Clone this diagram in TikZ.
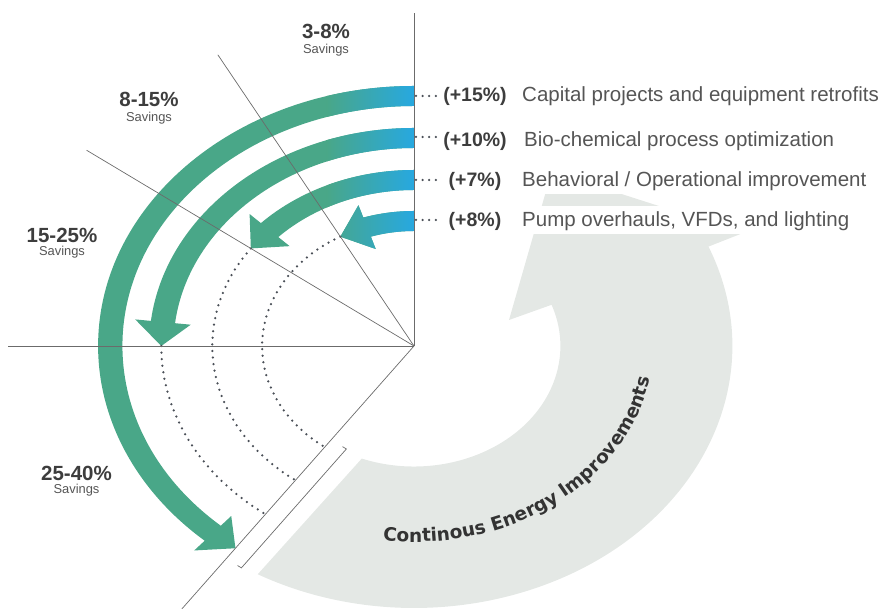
\documentclass[tikz,border=0pt]{standalone}
\usepackage{fontspec}
\setmainfont{Liberation Sans}
\newfontfamily\loopfont{DejaVu Sans}
\usetikzlibrary{positioning,decorations.text}

\definecolor{arrowgreen}{HTML}{49A788}
\definecolor{arrowblue}{HTML}{27A8E0}
\definecolor{loopgray}{HTML}{E4E8E5}
\definecolor{axisgray}{HTML}{6B6B6B}
\definecolor{dotgray}{HTML}{4A4F57}
\definecolor{labeldark}{HTML}{3D3D3D}
\definecolor{labelgray}{HTML}{555555}
\definecolor{loopdark}{HTML}{333333}

\tikzset{
  axisline/.style={draw=axisgray, line width=0.7pt},
  dotline/.style={draw=dotgray, line width=2.5pt, line cap=round, dash pattern=on 0pt off 6.6pt},
  savingrange/.style={anchor=base, inner sep=0pt, text=labeldark, font=\bfseries\fontsize{20.5}{24}\selectfont},
  savings/.style={anchor=base, inner sep=0pt, text=labelgray, font=\fontsize{12.9}{15}\selectfont},
  gain/.style={anchor=base, inner sep=2pt, text=labeldark, font=\bfseries\fontsize{19.5}{23}\selectfont},
  measure/.style={anchor=base west, fill=white, inner xsep=3pt, inner ysep=3pt,
    text height=18pt, text depth=4pt, text=labelgray, font=\fontsize{20.5}{24}\selectfont},
}

\begin{document}
\begin{tikzpicture}[x=1pt,y=1pt]
\useasboundingbox (0,0) rectangle (882,609);

\begin{scope}[shift={(414,263)}, xscale=1.215]
\coordinate (O) at (0,0);
% continuous improvement loop
\fill[loopgray] (249.1:120.5) arc[start angle=249.1, end angle=380, radius=120.5]
  -- (18.4:82.4) -- (57:208) -- (22.65:293.4) -- (22.3:262)
  arc[start angle=382.3, end angle=240.6, radius=262] -- cycle;

% savings arrows
\foreach \r/\tip in {250/234,208/180,166/144,125/119}{
  \pgfmathsetmacro\back{\tip-24/\r*180/pi}
  \pgfmathsetmacro\ro{\r+10} \pgfmathsetmacro\ri{\r-10}
  \pgfmathsetmacro\ho{\r+23} \pgfmathsetmacro\hi{\r-23}
  \begin{scope}
    \clip (90:\ro) arc[start angle=90, end angle=\back, radius=\ro]
      -- (\back:\ho) -- (\tip:\r) -- (\back:\hi) -- (\back:\ri)
      arc[start angle=\back, end angle=90, radius=\ri] -- cycle;
    \fill[arrowgreen] (-320,-320) rectangle (0,320);
    \shade[left color=arrowgreen, right color=arrowblue] (-72,0) rectangle (0,320);
  \end{scope}
}

% dotted continuation
\foreach \r/\tip in {208/180,166/144,125/119}
  \draw[dotline] (\tip:\r) arc[start angle=\tip, end angle=234, radius=\r];

% axes
\foreach \a/\len/\n in {90/333/top,119/333/a,144/333/b,180/334/left,234/325/bottom}{
  \coordinate (end-\n) at (\a:\len);
  \draw[axisline] (O) -- (end-\n);
}

% bracket
\draw[axisline] (234:116) ++(324:11.5) -- ++(324:4) -- ++(234:147) -- ++(144:4);
\end{scope}

% loop text
\path[decorate, decoration={text along path, text align={fit to path},
  text={|\loopfont\bfseries\fontsize{18.5}{20}\selectfont\color{loopdark}|Continous Energy Improvements}}]
  (414,263) ++(262.5:239 and 196) arc[start angle=262.5, end angle=350.6, x radius=239, y radius=196];

% savings ranges
\node[savingrange] (r38) at (326,570) {3-8\%};
\node[savings] (s38) at (326,555) {Savings};
\node[savingrange] (r815) at (149,502) {8-15\%};
\node[savings] (s815) at (149,487) {Savings};
\node[savingrange] (r1525) at (62,366) {15-25\%};
\node[savings] (s1525) at (62,353) {Savings};
\node[savingrange] (r2540) at (76.5,128) {25-40\%};
\node[savings] (s2540) at (76.5,115) {Savings};

% improvement rows
\node[gain] (g15) at (475,507) {(+15\%)};
\node[measure] (m15) at (519,507) {Capital projects and equipment retrofits};
\node[gain] (g10) at (475,462) {(+10\%)};
\node[measure] (m10) at (521,462) {Bio-chemical process optimization};
\node[gain] (g7) at (475,422) {(+7\%)};
\node[measure] (m7) at (519,422) {Behavioral / Operational improvement};
\node[gain] (g8) at (475,382) {(+8\%)};
\node[measure] (m8) at (519,382) {Pump overhauls, VFDs, and lighting};

\coordinate (v15) at (416,513);
\coordinate (v10) at (416,472);
\coordinate (v7) at (416,429);
\coordinate (v8) at (416,389);
\foreach \n in {15,10,7,8}
  \draw[dotline, shorten >=5pt] (v\n) -- (v\n -| g\n.west);
\end{tikzpicture}
\end{document}
